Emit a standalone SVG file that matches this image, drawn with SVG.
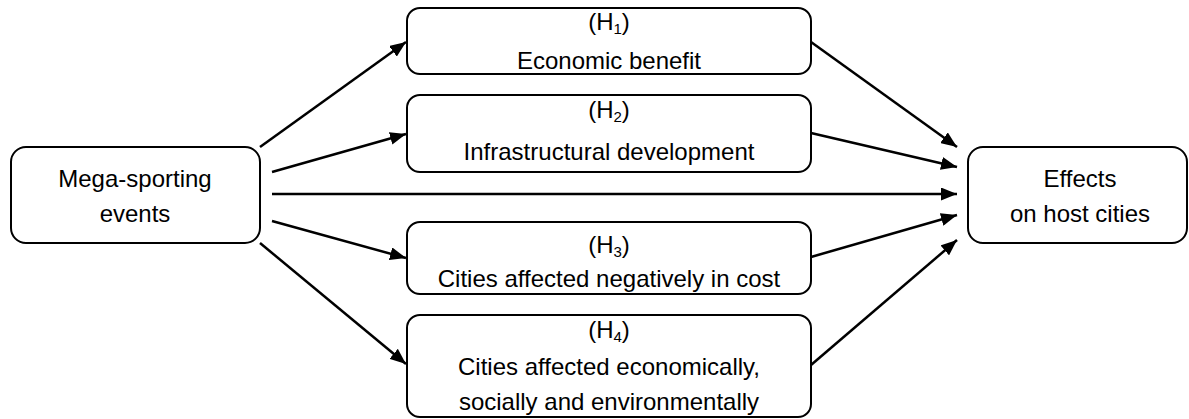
<svg xmlns="http://www.w3.org/2000/svg" width="1189" height="419" viewBox="0 0 1189 419">
<style>
.box{fill:#fff;stroke:#000;stroke-width:2}
.t{font-family:"Liberation Sans",Arial,sans-serif;font-size:24px;fill:#000;text-anchor:middle}
.sub{font-size:15px}
.c{stroke:#000;stroke-width:2.5;fill:none;marker-end:url(#ah)}
</style>
<defs>
<marker id="ah" markerUnits="userSpaceOnUse" markerWidth="17" markerHeight="13" refX="16" refY="6.5" orient="auto">
<path d="M0,0 L16,6.5 L0,13 z" fill="#000"/>
</marker>
</defs>
<g id="connectors">
<line class="c" x1="260" y1="147" x2="406" y2="42"/>
<line class="c" x1="272" y1="172" x2="406" y2="134"/>
<line class="c" x1="272" y1="194" x2="957" y2="194"/>
<line class="c" x1="272" y1="221" x2="406" y2="258"/>
<line class="c" x1="260" y1="243" x2="406" y2="364"/>
<line class="c" x1="811" y1="42" x2="957" y2="147"/>
<line class="c" x1="811" y1="133" x2="957" y2="167"/>
<line class="c" x1="811" y1="257" x2="957" y2="215"/>
<line class="c" x1="811" y1="365" x2="957" y2="240"/>
</g>
<g id="mega">
<rect class="box" x="11" y="147" width="249" height="96" rx="15"/>
<text class="t" x="135" y="187">Mega-sporting</text>
<text class="t" x="135" y="222">events</text>
</g>
<g id="h1">
<rect class="box" x="407" y="8" width="404" height="66" rx="13"/>
<text class="t" x="609" y="30">(H<tspan class="sub" dy="4">1</tspan><tspan dy="-4">)</tspan></text>
<text class="t" x="609" y="69">Economic benefit</text>
</g>
<g id="h2">
<rect class="box" x="407" y="95" width="404" height="77" rx="13"/>
<text class="t" x="609" y="118">(H<tspan class="sub" dy="4">2</tspan><tspan dy="-4">)</tspan></text>
<text class="t" x="609" y="160">Infrastructural development</text>
</g>
<g id="h3">
<rect class="box" x="407" y="222" width="404" height="72" rx="13"/>
<text class="t" x="609" y="253">(H<tspan class="sub" dy="4">3</tspan><tspan dy="-4">)</tspan></text>
<text class="t" x="609" y="287">Cities affected negatively in cost</text>
</g>
<g id="h4">
<rect class="box" x="407" y="315" width="404" height="102" rx="13"/>
<text class="t" x="609" y="338">(H<tspan class="sub" dy="4">4</tspan><tspan dy="-4">)</tspan></text>
<text class="t" x="609" y="375">Cities affected economically,</text>
<text class="t" x="609" y="410">socially and environmentally</text>
</g>
<g id="effects">
<rect class="box" x="968" y="147" width="219" height="96" rx="15"/>
<text class="t" x="1080" y="187">Effects</text>
<text class="t" x="1080" y="222">on host cities</text>
</g>
</svg>
